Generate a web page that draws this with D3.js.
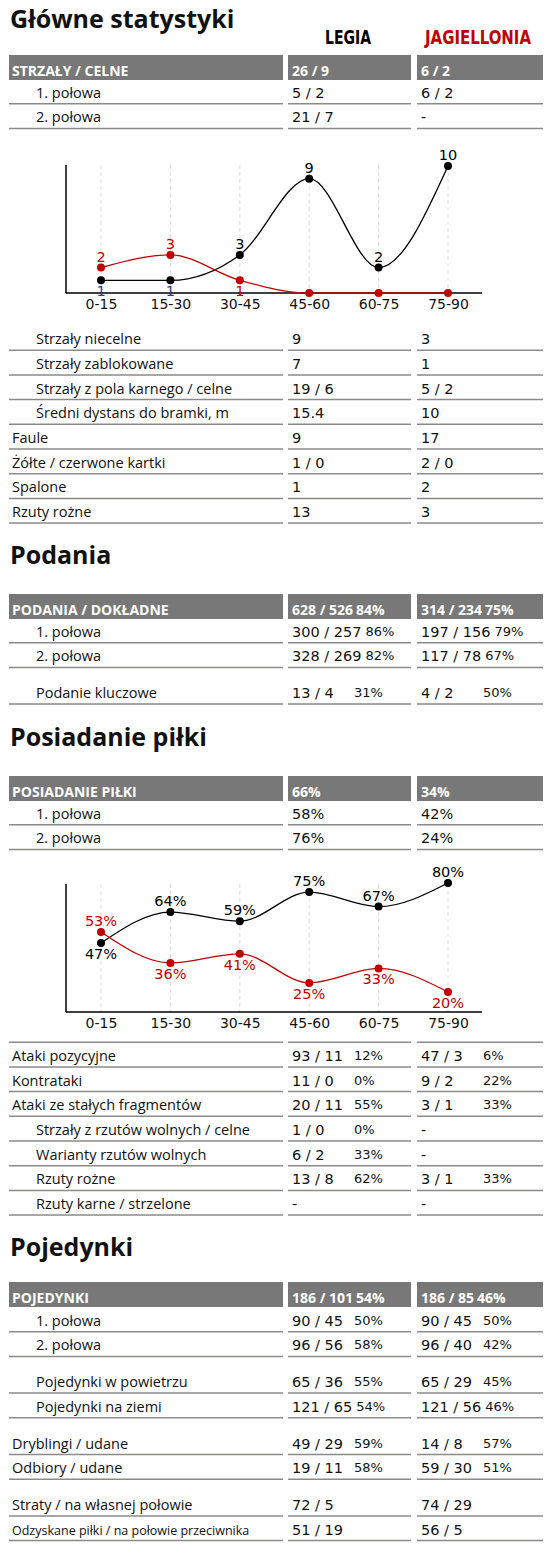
<!DOCTYPE html>
<html><head><meta charset="utf-8">
<script src="https://cdn.jsdelivr.net/npm/d3@7"></script>
<style>body{margin:0;background:#fff}</style>
</head><body><svg id="c" width="553" height="1556"></svg>
<script>
// team names
const teams = ['LEGIA', 'JAGIELLONIA'];
const periods = ['0-15', '15-30', '30-45', '45-60', '60-75', '75-90'];

// shots per period
const shotsLegia = [1, 1, 3, 9, 2, 10];
const shotsJag = [2, 3, 1, 0, 0, 0];
// possession per period
const possLegia = [47, 64, 59, 75, 67, 80];
const possJag = [53, 36, 41, 25, 33, 20];

// table rows: [label, indented, legia, legia %, jag, jag %]  (null = gap)
const rowsShotsHead = ['STRZAŁY / CELNE', '26 / 9', '', '6 / 2', ''];
const rowsShots = [
  ['1. połowa', 1, '5 / 2', '', '6 / 2', ''],
  ['2. połowa', 1, '21 / 7', '', '-', '']
];
const rowsShots2 = [
  ['Strzały niecelne', 1, '9', '', '3', ''],
  ['Strzały zablokowane', 1, '7', '', '1', ''],
  ['Strzały z pola karnego / celne', 1, '19 / 6', '', '5 / 2', ''],
  ['Średni dystans do bramki, m', 1, '15.4', '', '10', ''],
  ['Faule', 0, '9', '', '17', ''],
  ['Żółte / czerwone kartki', 0, '1 / 0', '', '2 / 0', ''],
  ['Spalone', 0, '1', '', '2', ''],
  ['Rzuty rożne', 0, '13', '', '3', '']
];
const rowsPassHead = ['PODANIA / DOKŁADNE', '628 / 526', '84%', '314 / 234', '75%'];
const rowsPass = [
  ['1. połowa', 1, '300 / 257', '86%', '197 / 156', '79%'],
  ['2. połowa', 1, '328 / 269', '82%', '117 / 78', '67%'],
  null,
  ['Podanie kluczowe', 1, '13 / 4', '31%', '4 / 2', '50%']
];
const rowsPossHead = ['POSIADANIE PIŁKI', '66%', '', '34%', ''];
const rowsPoss = [
  ['1. połowa', 1, '58%', '', '42%', ''],
  ['2. połowa', 1, '76%', '', '24%', '']
];
const rowsPoss2 = [
  ['', 0, '', '', '', ''],
  ['Ataki pozycyjne', 0, '93 / 11', '12%', '47 / 3', '6%'],
  ['Kontrataki', 0, '11 / 0', '0%', '9 / 2', '22%'],
  ['Ataki ze stałych fragmentów', 0, '20 / 11', '55%', '3 / 1', '33%'],
  ['Strzały z rzutów wolnych / celne', 1, '1 / 0', '0%', '-', ''],
  ['Warianty rzutów wolnych', 1, '6 / 2', '33%', '-', ''],
  ['Rzuty rożne', 1, '13 / 8', '62%', '3 / 1', '33%'],
  ['Rzuty karne / strzelone', 1, '-', '', '-', '']
];
const rowsDuelHead = ['POJEDYNKI', '186 / 101', '54%', '186 / 85', '46%'];
const rowsDuel = [
  ['1. połowa', 1, '90 / 45', '50%', '90 / 45', '50%'],
  ['2. połowa', 1, '96 / 56', '58%', '96 / 40', '42%'],
  null,
  ['Pojedynki w powietrzu', 1, '65 / 36', '55%', '65 / 29', '45%'],
  ['Pojedynki na ziemi', 1, '121 / 65', '54%', '121 / 56', '46%'],
  null,
  ['Dryblingi / udane', 0, '49 / 29', '59%', '14 / 8', '57%'],
  ['Odbiory / udane', 0, '19 / 11', '58%', '59 / 30', '51%'],
  null,
  ['Straty / na własnej połowie', 0, '72 / 5', '', '74 / 29', ''],
  ['Odzyskane piłki / na połowie przeciwnika', 0, '51 / 19', '', '56 / 5', '']
];

const svg = d3.select('#c');
const cols = [[9, 283], [288, 411], [417, 543]];
const RH = 24.7, GAP = 12;
const lblFont = '"Open Sans", sans-serif', numFont = '"DejaVu Sans", Verdana, sans-serif';
const RED = '#c00000';

function title(t, y) {
  svg.append('text').attr('x', 10).attr('y', y).text(t)
    .attr('font-family', lblFont).attr('font-weight', 'bold').attr('font-size', 25).attr('fill', '#111');
}

function header(h, top) {
  cols.forEach(function(c) {
    svg.append('rect').attr('x', c[0]).attr('y', top).attr('width', c[1] - c[0]).attr('height', 25).attr('fill', '#787878');
  });
  svg.append('text').attr('x', 12).attr('y', top + 21).text(h[0])
    .attr('font-family', lblFont).attr('font-weight', 'bold').attr('font-size', 14).attr('fill', '#fff');
  [[1, 2], [3, 4]].forEach(function(p, k) {
    let t = svg.append('text').attr('x', cols[k + 1][0] + 4).attr('y', top + 21).text(h[p[0]])
      .attr('font-family', lblFont).attr('font-weight', 'bold').attr('font-size', 14).attr('fill', '#fff');
    if (h[p[1]]) {
      let w = t.node().getComputedTextLength();
      svg.append('text').attr('x', cols[k + 1][0] + 4 + w + 3).attr('y', top + 21).text(h[p[1]])
        .attr('font-family', lblFont).attr('font-weight', 'bold').attr('font-size', 14).attr('fill', '#fff');
    }
  });
  return top + 25;
}

function rows(list, y) {
  list.forEach(function(r) {
    if (r === null) { y += GAP; return; }
    let bottom = y + RH;
    cols.forEach(function(c) {
      svg.append('line').attr('x1', c[0]).attr('x2', c[1]).attr('y1', bottom).attr('y2', bottom)
        .attr('stroke', '#8a8a88').attr('stroke-width', 1.5);
    });
    let fs = r[0].length > 34 ? 12.5 : 14.5;
    svg.append('text').attr('x', r[1] ? 36 : 12).attr('y', bottom - 6).text(r[0])
      .attr('font-family', lblFont).attr('font-size', fs).attr('fill', '#111');
    [[2, 3], [4, 5]].forEach(function(p, k) {
      let x0 = cols[k + 1][0] + 4;
      let t = svg.append('text').attr('x', x0).attr('y', bottom - 6).text(r[p[0]])
        .attr('font-family', numFont).attr('font-size', 14.5).attr('fill', '#111');
      if (r[p[1]]) {
        let w = t.node().getComputedTextLength();
        svg.append('text').attr('x', Math.max(x0 + w + 4, x0 + 62)).attr('y', bottom - 7).text(r[p[1]])
          .attr('font-family', numFont).attr('font-size', 13).attr('fill', '#111');
      }
    });
    y = bottom;
  });
  return y;
}

function chart(top, bottom, domain, yTop, yBot, series, fmt, below) {
  let x = d3.scalePoint().domain(periods).range([101, 448]);
  let y = d3.scaleLinear().domain(domain).range([yBot, yTop]);
  let g = svg.append('g');
  periods.forEach(function(p) {
    g.append('line').attr('x1', x(p)).attr('x2', x(p)).attr('y1', top).attr('y2', bottom)
      .attr('stroke', '#ddd').attr('stroke-dasharray', '4,3');
  });
  g.append('line').attr('x1', 66).attr('x2', 66).attr('y1', top).attr('y2', bottom).attr('stroke', '#000').attr('stroke-width', 1.5);
  g.append('g').attr('transform', 'translate(0,' + bottom + ')')
    .call(d3.axisBottom(x).tickSize(0).tickPadding(6))
    .call(function(a) {
      a.select('.domain').attr('d', 'M66,0H482').attr('stroke', '#000').attr('stroke-width', 1.5);
      a.selectAll('text').attr('font-family', numFont).attr('font-size', 14).attr('fill', '#111');
    });
  series.forEach(function(s) {
    let line = d3.line().x(function(d, i) { return x(periods[i]); }).y(function(d) { return y(d); }).curve(d3.curveMonotoneX);
    g.append('path').attr('d', line(s.values)).attr('fill', 'none').attr('stroke', s.color).attr('stroke-width', 1.3);
    s.values.forEach(function(v, i) {
      g.append('circle').attr('cx', x(periods[i])).attr('cy', y(v)).attr('r', 4).attr('fill', s.color);
      let lb = below(s, v, i);
      g.append('text').attr('x', x(periods[i])).attr('y', y(v) + (lb ? 16 : -6)).text(fmt(v))
        .attr('text-anchor', 'middle').attr('font-family', numFont).attr('font-size', 14.5)
        .attr('fill', lb && s.color === '#000' && fmt(v) === '1' ? '#1f3f8f' : s.color);
    });
  });
}

// section 1
title('Główne statystyki', 28);
svg.selectAll('.team').data(teams).enter().append('text')
  .attr('x', function(d, i) { return i ? 425 : 325; }).attr('y', 44).text(function(d) { return d; })
  .attr('textLength', function(d, i) { return i ? 106 : 46; }).attr('lengthAdjust', 'spacingAndGlyphs')
  .attr('font-family', '"DejaVu Sans Condensed", "Liberation Sans Narrow", sans-serif').attr('font-weight', 'bold')
  .attr('font-size', 19).attr('fill', function(d, i) { return i ? RED : '#000'; });
let y = header(rowsShotsHead, 55);
rows(rowsShots, y - 1);
chart(165, 293, [0, 10], 166, 293, [
  { values: shotsLegia, color: '#000' },
  { values: shotsJag, color: RED }
], function(v) { return v === 0 ? '' : String(v); }, function(s, v) { return v === 1; });
rows(rowsShots2, 325.5);

// section 2
title('Podania', 564);
y = header(rowsPassHead, 594);
rows(rowsPass, y - 1);

// section 3
title('Posiadanie piłki', 746);
y = header(rowsPossHead, 776);
rows(rowsPoss, y - 1);
chart(884, 1012, [20, 80], 883, 992, [
  { values: possLegia, color: '#000' },
  { values: possJag, color: RED }
], function(v) { return v + '%'; }, function(s, v, i) {
  let other = s.color === RED ? possLegia[i] : possJag[i];
  return v < other;
});
rows(rowsPoss2, 1017.5);

// section 4
title('Pojedynki', 1256);
y = header(rowsDuelHead, 1282);
rows(rowsDuel, y);
</script></body></html>
